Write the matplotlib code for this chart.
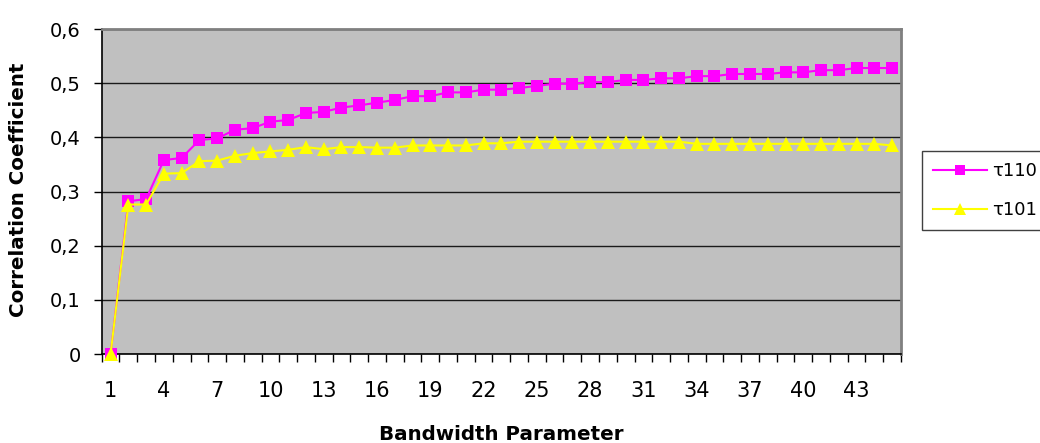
import matplotlib
matplotlib.use("Agg")
import matplotlib.pyplot as plt
from matplotlib.ticker import FixedLocator

# bandwidth parameter 1..45 and the two correlation series
bandwidth = list(range(1, 46))

tau110 = [
    0.0, 0.282, 0.286, 0.358, 0.362, 0.395, 0.398, 0.414, 0.417, 0.429,
    0.432, 0.445, 0.447, 0.455, 0.459, 0.464, 0.469, 0.476, 0.476, 0.483,
    0.483, 0.488, 0.488, 0.491, 0.495, 0.499, 0.499, 0.502, 0.502, 0.506,
    0.506, 0.509, 0.509, 0.513, 0.513, 0.517, 0.517, 0.517, 0.520, 0.520,
    0.524, 0.524, 0.528, 0.528, 0.528,
]

tau101 = [
    0.0, 0.276, 0.276, 0.333, 0.334, 0.356, 0.357, 0.366, 0.371, 0.374,
    0.377, 0.382, 0.378, 0.382, 0.382, 0.381, 0.381, 0.385, 0.385, 0.385,
    0.385, 0.389, 0.389, 0.392, 0.392, 0.392, 0.392, 0.392, 0.392, 0.392,
    0.392, 0.392, 0.392, 0.388, 0.388, 0.388, 0.388, 0.388, 0.388, 0.388,
    0.388, 0.388, 0.388, 0.388, 0.385,
]

series_labels = ["τ110", "τ101"]
yticks = [0.0, 0.1, 0.2, 0.3, 0.4, 0.5, 0.6]
ytick_labels = ["0", "0,1", "0,2", "0,3", "0,4", "0,5", "0,6"]
xtick_labels = [str(b) for b in bandwidth[::3]]

fig = plt.figure(figsize=(10.4, 4.43), dpi=100)
ax = fig.add_axes([0.0978, 0.2009, 0.7685, 0.7336])
ax.set_facecolor("#c0c0c0")

l1, = ax.plot(bandwidth, tau110, color="#ff00ff", lw=1.5, marker="s",
              markersize=8.5, markeredgewidth=0, clip_on=False, zorder=3)
l2, = ax.plot(bandwidth, tau101, color="#ffff00", lw=1.5, marker="^",
              markersize=9.5, markeredgewidth=0, clip_on=False, zorder=4)

ax.set_xlim(0.5, len(bandwidth) + 0.5)
ax.set_ylim(0, 0.6)

# y axis
ax.set_yticks(yticks)
ax.set_yticklabels(ytick_labels)
ax.tick_params(axis="y", direction="out", length=6, width=1, pad=9,
               labelsize=14, colors="black")
ax.yaxis.grid(True, color="#1a1a1a", lw=1.0)
ax.set_axisbelow(True)

# x axis: labels at every third category, tick marks between categories
ax.set_xticks(bandwidth[::3])
ax.set_xticklabels(xtick_labels)
ax.xaxis.set_minor_locator(FixedLocator([b + 0.5 for b in range(0, 46)]))
ax.tick_params(axis="x", which="major", length=0, pad=19.5, labelsize=15)
ax.tick_params(axis="x", which="minor", direction="out", length=6, width=1)

for side in ("left", "bottom"):
    ax.spines[side].set_color("black")
    ax.spines[side].set_linewidth(1.2)
for side in ("top", "right"):
    ax.spines[side].set_color("#808080")
    ax.spines[side].set_linewidth(2)

fig.text(0.4817, 0.0203, "Bandwidth Parameter", ha="center", va="center",
         fontsize=14.3, fontweight="bold")
fig.text(0.018, 0.571, "Correlation Coefficient", ha="center", va="center",
         rotation=90, fontsize=14.3, fontweight="bold")

leg = fig.legend([l1, l2], series_labels, loc="upper left",
                 bbox_to_anchor=(922 / 1040, (443 - 151) / 443),
                 borderaxespad=0, fontsize=13, handlelength=3.0,
                 handletextpad=0.3, labelspacing=1.2, borderpad=0.6,
                 markerscale=0.85, fancybox=False, framealpha=1,
                 edgecolor="#404040")
leg.get_frame().set_linewidth(1.0)

fig.savefig("out.png", dpi=100, facecolor="white")
